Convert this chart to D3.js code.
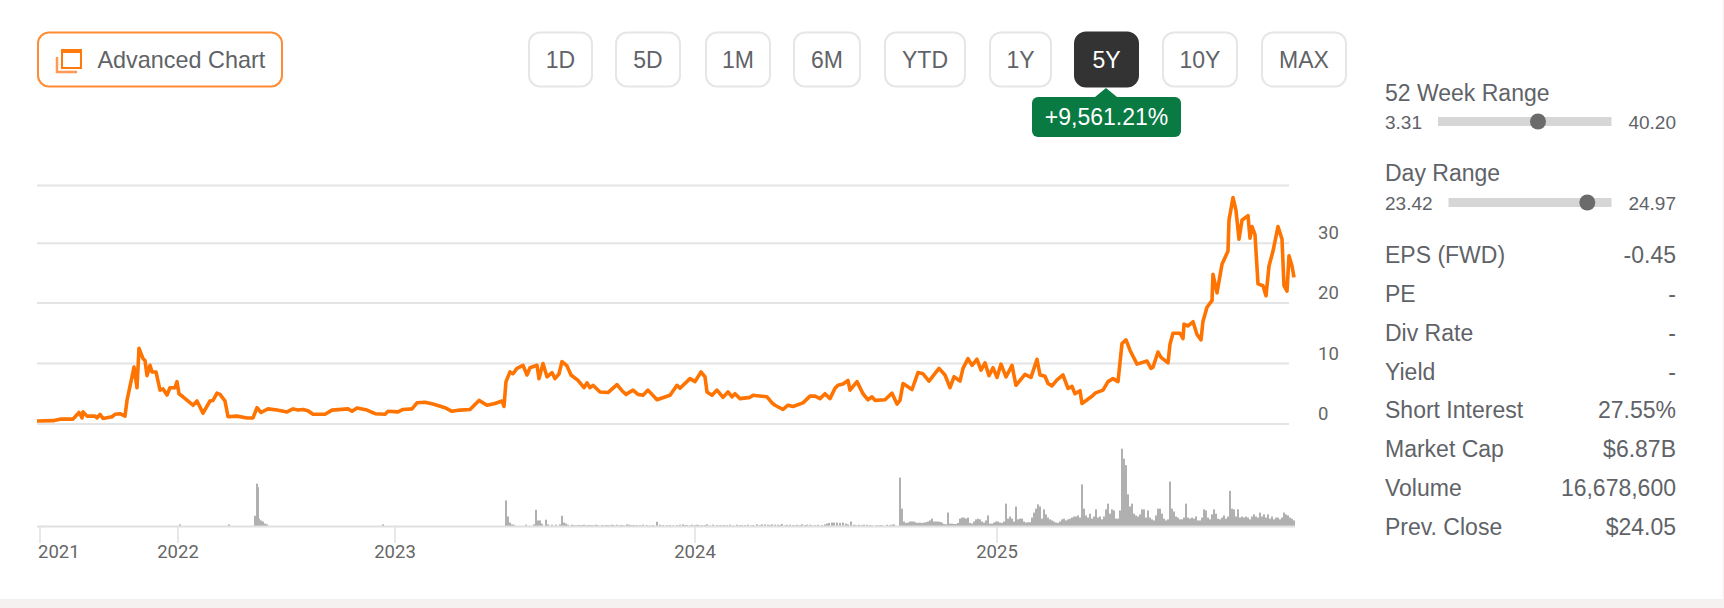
<!DOCTYPE html>
<html>
<head>
<meta charset="utf-8">
<script src="https://cdnjs.cloudflare.com/ajax/libs/d3/7.8.5/d3.min.js"></script>
<style>
  html, body { margin: 0; padding: 0; background: #f5f1f1; overflow: hidden; }
  svg { display: block; }
  text { font-family: "Liberation Sans", Arial, sans-serif; fill: #5f6368; }
</style>
</head>
<body>
<svg id="chart" width="1724" height="608"></svg>
<script>
// trading session number (about one per pixel) and close price
const priceSessions = [0,16,23,36,42,45,46,50,58,60,63,66,75,78,83,88,90,95,97,100,102,106,108,110,113,115,119,123,126,130,133,138,140,142,146,156,160,166,173,176,180,183,188,191,200,210,216,220,224,231,240,250,256,261,266,271,276,288,295,311,315,320,330,338,348,351,361,366,375,380,388,396,408,415,423,433,442,
  450,458,465,467,469,473,476,480,486,490,493,500,502,506,510,515,518,522,525,530,534,541,547,550,553,556,563,571,580,585,589,596,601,606,611,620,625,633,640,643,653,658,664,668,670,675,680,686,691,695,698,703,713,716,730,735,738,746,751,756,766,773,778,783,788,793,798,801,806,811,813,820,826,831,835,838,848,855,860,863,866,
  875,881,886,892,902,908,913,917,923,926,931,935,940,944,948,952,956,960,964,969,975,979,988,994,1000,1003,1008,1011,1015,1020,1026,1031,1035,1038,1043,1045,1055,1058,1066,1071,1076,1081,1085,1089,1093,1100,1110,1114,1116,1121,1124,1131,1133,1136,
  1143,1146,1147,1151,1156,1160,1164,1166,1170,1175,1176,1180,1185,1191,1192,1196,1199,1202,1205,1211,1213,1215,1218,1221,1226,1229,1232,1236,1241,1245,1247,1250,1252,1255,1257];
const priceValues = [0.5,0.55,0.8,0.8,1.9,1.0,2.0,1.3,1.3,1.0,1.6,0.9,1.2,1.6,1.7,1.3,3.9,7.8,9.4,6.0,12.5,10.8,10.5,8.0,9.7,8.6,8.6,5.6,5.8,4.8,6.0,6.0,7.0,5.0,4.5,3.1,3.8,1.8,3.8,3.9,5.1,4.9,3.8,1.2,1.3,1.0,1.0,2.7,1.9,2.5,2.3,2.0,2.5,2.3,2.4,2.2,1.6,1.6,2.3,2.5,2.1,2.65,2.3,1.7,1.6,2.1,2.0,2.4,2.5,3.5,3.6,3.3,2.7,2.1,2.3,2.4,3.9,
  3.1,3.4,3.8,2.9,7.0,8.6,8.3,9.2,9.7,8.1,9.3,9.7,7.5,10.0,7.8,8.5,7.5,8.3,10.3,9.6,8.1,7.2,6.0,6.8,6.0,6.4,5.3,5.2,6.5,5.5,4.9,5.6,4.9,4.75,5.6,4.0,4.3,4.75,6.4,5.9,7.5,7.0,8.6,7.8,5.3,4.75,5.6,4.4,5.3,4.5,5.0,4.2,4.4,4.75,4.5,3.5,3.1,2.4,3.1,2.9,3.5,4.6,4.6,4.2,5.0,4.2,5.9,6.4,6.6,7.2,5.6,7.0,5.0,4.0,4.5,3.9,4.0,5.1,3.3,3.9,6.7,
  5.7,8.5,8.3,7.1,9.2,8.1,6.0,7.8,7.1,9.2,10.8,9.7,10.7,8.9,10.1,8.0,9.3,7.7,9.9,7.8,9.7,6.4,8.2,7.7,10.7,8.1,7.9,6.7,6.3,7.3,8.1,5.9,6.2,5.0,5.5,3.4,4.6,5.1,5.6,7.0,7.5,7.0,13.3,13.9,12.2,9.9,10.4,9.2,9.4,11.9,11.0,10.1,13.2,15.0,
  15.0,14.1,16.5,16.2,16.9,14.8,13.9,17.0,19.3,20.4,24.8,21.7,26.5,28.7,34.0,37.9,35.7,30.7,34.0,34.8,30.9,32.9,31.5,23.2,22.9,21.2,26.2,28.7,32.9,30.7,22.9,22.0,27.9,26.2,24.3];

// volume in millions of shares: scattered prints first, then a value every second session
const earlyVolumeSessions = [143,192,218,220,221,222,224,226,228,230,346,469,471,473,475,477,489,497,499,501,503,505,509,511,515,519,523,525,527,529,531,535,541,545,551,555,565,569,580,585,590,596,603,620,630,640,650,655,665,670,680,690,700,708,720,728,738,745,753,760,770,785,795,800,806,814,822,830,840,850,857,
  537,539,543,547,549,
  553,557,559,561,567,
  571,573,575,577,583,
  587,592,594,598,600,
  606,610,613,616,623,
  626,633,636,643,646,
  648,653,658,660,662,
  668,673,676,683,685,
  687,693,696,703,705,
  711,714,716,723,725,
  731,733,735,741,743,
  748,750,756,758,763,
  765,768,773,775,778,
  781,788,790,792,797,
  803,809,811,817,819,
  825,827,833,835,843,
  845,853,855];
const earlyVolumes = [6,6,30,120,110,22,17,14,8,6,6,73,28,11,6,5,5,6,47,17,17,8,19,6,5,5,6,30,11,8,5,5,4,4,4,4,4,4,5,4,6,4,4,13,4,4,4,5,4,6,4,4,5,4,6,6,5,7,5,5,5,4,11,11,11,14,5,5,4,5,6,
  4,3,4,5,3,
  4,3,5,4,3,
  4,3,5,4,4,
  3,5,4,3,4,
  5,4,3,4,5,
  4,4,3,5,6,
  4,3,4,5,4,
  4,3,5,4,3,
  4,5,3,4,4,
  5,3,4,4,6,
  5,4,6,5,4,
  3,5,4,3,4,
  6,4,5,3,4,
  5,6,8,10,11,
  10,8,6,5,4,
  4,5,4,3,4,
  4,4,5];
const recentVolumeStart = 863;
const recentVolumes = [137,50,14,10,11,14,14,14,11,10,11,10,11,12,14,17,22,14,14,14,13,11,7,6,39,8,8,7,7,10,22,25,25,22,25,10,8,14,20,22,20,14,11,17,31,8,8,11,14,14,11,10,14,64,22,28,22,14,56,20,22,22,14,11,12,12,25,39,50,62,56,22,48,34,25,20,17,14,11,10,14,20,22,17,20,22,25,28,28,31,25,118,50,31,25,36,22,28,48,25,28,20,28,48,64,36,48,45,22,22,45,218,190,172,90,56,64,36,31,28,34,48,48,25,45,25,20,17,31,50,50,36,22,17,20,126,50,42,28,25,20,20,25,64,25,22,25,22,28,17,17,25,48,45,25,20,34,48,36,22,20,25,31,22,28,100,50,48,28,48,25,28,25,28,25,20,28,34,28,25,39,28,34,25,34,22,28,20,25,25,20,25,39,34,31,25,22,17];

const yearLabels = ["2021","2022","2023","2024","2025"];
const yearTickSessions = [3,141,358,658,960];
const priceGrid = [0,10,20,30,40];
const priceTicks = [0,10,20,30];

const rangeButtons = ["1D","5D","1M","6M","YTD","1Y","5Y","10Y","MAX"];
const rangeButtonEdges = [[529,592],[616,680],[706,770],[794,860],[885,965],[990,1051],[1075,1138],[1163,1237],[1262,1346]];
const activeRange = "5Y";
const rangeReturn = "+9,561.21%";

const week52 = { label: "52 Week Range", low: "3.31", high: "40.20", pos: 24.57 };
const dayRange = { label: "Day Range", low: "23.42", high: "24.97", pos: 24.74 };
const statLabels = ["EPS (FWD)","PE","Div Rate","Yield","Short Interest","Market Cap","Volume","Prev. Close"];
const statValues = ["-0.45","-","-","-","27.55%","$6.87B","16,678,600","$24.05"];
const statBaselines = [262.5,302,341,380,418,457,496,535];

const orange = "#ff7300";
const svg = d3.select("#chart");

svg.append("rect").attr("width", 1722.5).attr("height", 599).attr("fill", "#fff");

// scales
const x = d3.scaleLinear().domain([0, 1257]).range([37, 1294]);
const y = d3.scaleLinear().domain(priceGrid).range([424, 363.5, 303, 243.3, 185.5]);
const yVol = d3.scaleLinear().domain([0, 220]).range([526.5, 448]);

// grid and price labels
svg.append("g").selectAll("line").data(priceGrid).join("line")
  .attr("x1", 37).attr("x2", 1289)
  .attr("y1", d => y(d)).attr("y2", d => y(d))
  .attr("stroke", "#e4e4e4").attr("stroke-width", 2);

svg.append("g").selectAll("text").data(priceTicks).join("text")
  .attr("x", 1318)
  .attr("y", d => y(d) - 4)
  .style("font-family", "Roboto")
  .style("font-size", "18.5px")
  .style("fill", "#666")
  .text(d => d);

// volume
const volumeSeries = earlyVolumeSessions.map((s, i) => ({ s, v: earlyVolumes[i] }))
  .concat(recentVolumes.map((v, i) => ({ s: recentVolumeStart + i * 2, v })));

svg.append("g").selectAll("rect").data(volumeSeries).join("rect")
  .attr("x", d => x(d.s) - 1)
  .attr("width", 2)
  .attr("y", d => yVol(d.v))
  .attr("height", d => yVol(0) - yVol(d.v))
  .attr("fill", "#b0b0b0");

// time axis
svg.append("line")
  .attr("x1", 37).attr("x2", 1295)
  .attr("y1", yVol(0)).attr("y2", yVol(0))
  .attr("stroke", "#e0e0e0").attr("stroke-width", 2);

const yearAxis = svg.append("g").selectAll("g").data(yearLabels).join("g");
yearAxis.append("line")
  .attr("x1", (d, i) => x(yearTickSessions[i])).attr("x2", (d, i) => x(yearTickSessions[i]))
  .attr("y1", yVol(0)).attr("y2", 543)
  .attr("stroke", "#e0e0e0").attr("stroke-width", 1.5);
yearAxis.append("text")
  .attr("x", (d, i) => i === 0 ? 38 : x(yearTickSessions[i]))
  .attr("y", 558)
  .attr("text-anchor", (d, i) => i === 0 ? "start" : "middle")
  .style("font-family", "Roboto")
  .style("font-size", "18.5px")
  .style("fill", "#666")
  .text(d => d);

// price line
const line = d3.line()
  .x((d, i) => x(priceSessions[i]))
  .y(d => y(d));

svg.append("path")
  .datum(priceValues)
  .attr("d", line)
  .attr("fill", "none")
  .attr("stroke", orange)
  .attr("stroke-width", 3.6)
  .attr("stroke-linejoin", "round");

// top left button
svg.append("rect")
  .attr("x", 38).attr("y", 32.5).attr("width", 244).attr("height", 54).attr("rx", 11)
  .attr("fill", "#fff").attr("stroke", "#ff8b33").attr("stroke-width", 2);
svg.append("path")
  .attr("d", "M57 57V72H77")
  .attr("fill", "none").attr("stroke", "#ff9a55").attr("stroke-width", 2.5);
svg.append("rect")
  .attr("x", 62).attr("y", 50).attr("width", 19).attr("height", 18)
  .attr("fill", "none").attr("stroke", "#ff7a0d").attr("stroke-width", 2);
svg.append("rect")
  .attr("x", 61).attr("y", 49).attr("width", 21).attr("height", 4)
  .attr("fill", "#ff7a0d");
svg.append("text")
  .attr("x", 97.5).attr("y", 67.5)
  .style("font-size", "23.4px")
  .text("Advanced Chart");

// range buttons
const buttons = svg.append("g").selectAll("g").data(rangeButtons).join("g");
buttons.append("rect")
  .attr("x", (d, i) => rangeButtonEdges[i][0])
  .attr("y", 32.5)
  .attr("width", (d, i) => rangeButtonEdges[i][1] - rangeButtonEdges[i][0])
  .attr("height", 54)
  .attr("rx", 11)
  .attr("fill", d => d === activeRange ? "#333" : "#fff")
  .attr("stroke", d => d === activeRange ? "#333" : "#e6e6e6")
  .attr("stroke-width", 2);
buttons.append("text")
  .attr("x", (d, i) => (rangeButtonEdges[i][0] + rangeButtonEdges[i][1]) / 2)
  .attr("y", 67.5)
  .attr("text-anchor", "middle")
  .style("font-size", "23px")
  .style("fill", d => d === activeRange ? "#fff" : "#5f6368")
  .text(d => d);

// return badge under the active button
svg.append("path")
  .attr("d", "M1106 88L1117 97H1095Z")
  .attr("fill", "#0a7a43");
svg.append("rect")
  .attr("x", 1032).attr("y", 97).attr("width", 149).attr("height", 40).attr("rx", 6)
  .attr("fill", "#0a7a43");
svg.append("text")
  .attr("x", 1106.5).attr("y", 124.5)
  .attr("text-anchor", "middle")
  .style("font-size", "23px")
  .style("fill", "#fff")
  .text(rangeReturn);

// side panel
function drawRange(r, labelY, rowY, barLeft) {
  svg.append("text").attr("x", 1385).attr("y", labelY).style("font-size", "23px").text(r.label);
  svg.append("text").attr("x", 1385).attr("y", rowY + 7).style("font-size", "19px").text(r.low);
  svg.append("text").attr("x", 1676).attr("y", rowY + 7).attr("text-anchor", "end").style("font-size", "19px").text(r.high);
  const sx = d3.scaleLinear().domain([+r.low, +r.high]).range([barLeft, 1611.5]);
  svg.append("rect")
    .attr("x", barLeft).attr("y", rowY - 4.5).attr("width", 1611.5 - barLeft).attr("height", 9)
    .attr("fill", "#d6d6d6");
  svg.append("circle")
    .attr("cx", sx(r.pos)).attr("cy", rowY).attr("r", 8)
    .attr("fill", "#6b6b6b");
}
drawRange(week52, 101, 121.5, 1438);
drawRange(dayRange, 181, 202.5, 1448.5);

statLabels.forEach((s, i) => {
  svg.append("text").attr("x", 1385).attr("y", statBaselines[i]).style("font-size", "23px").text(s);
  svg.append("text").attr("x", 1676).attr("y", statBaselines[i]).attr("text-anchor", "end").style("font-size", "23px").text(statValues[i]);
});
</script>
</body>
</html>
